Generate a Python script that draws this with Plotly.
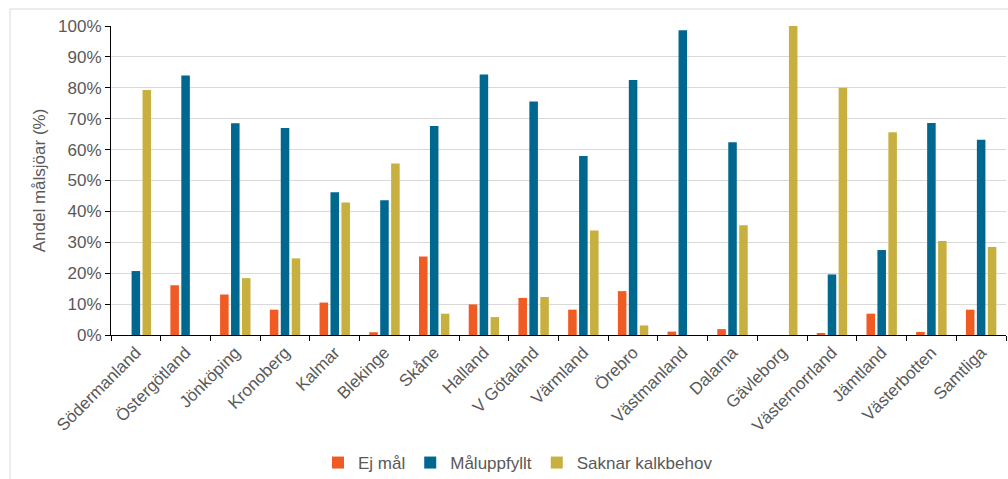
import plotly.graph_objects as go

# Län and the share of target lakes (%) in each status class
lan = ["Södermanland", "Östergötland", "Jönköping", "Kronoberg", "Kalmar",
       "Blekinge", "Skåne", "Halland", "V Götaland", "Värmland", "Örebro",
       "Västmanland", "Dalarna", "Gävleborg", "Västernorrland", "Jämtland",
       "Västerbotten", "Samtliga"]

ej_mal = [0, 16.1, 13.1, 8.2, 10.5, 0.9, 25.4, 9.9, 12.0, 8.2, 14.2,
          1.1, 1.9, 0, 0.4, 6.9, 1.0, 8.2]
maluppfyllt = [20.7, 84.0, 68.5, 67.0, 46.2, 43.6, 67.6, 84.3, 75.6, 57.9, 82.5,
               98.6, 62.4, 0, 19.6, 27.5, 68.6, 63.2]
saknar_kalkbehov = [79.3, 0, 18.4, 24.8, 42.9, 55.5, 6.9, 5.8, 12.3, 33.8, 3.1,
                    0, 35.5, 100.0, 80.0, 65.6, 30.4, 28.5]

series = [
    ("Ej mål", ej_mal, "#F05A23"),
    ("Måluppfyllt", maluppfyllt, "#00678F"),
    ("Saknar kalkbehov", saknar_kalkbehov, "#C8B040"),
]

text_col = "#595959"
font_family = "Liberation Sans, Arial, sans-serif"
fs = 17

fig = go.Figure()
for name, vals, col in series:
    fig.add_trace(go.Bar(
        name=name, x=lan, y=vals,
        marker=dict(color=col, line=dict(width=0)),
    ))

# plot-area geometry in pixels, used for the outer frame and legend
L, R, T, B = 111, 1006, 26, 335
W, H = R - L, B - T

def px_x(x):
    return (x - L) / W

def px_y(y):
    return (B - y) / H

fig.update_layout(
    width=1008, height=479,
    margin=dict(l=L, r=1008 - R, t=T, b=479 - B, autoexpand=False),
    paper_bgcolor="white", plot_bgcolor="white",
    barmode="group", bargap=0.34, bargroupgap=0.22,
    font=dict(family=font_family, size=fs, color=text_col),
    showlegend=True,
    legend=dict(orientation="h", x=px_x(518), xanchor="center",
                y=px_y(463), yanchor="middle",
                font=dict(size=fs, color=text_col),
                itemwidth=30, traceorder="normal"),
    shapes=[dict(type="rect", xref="paper", yref="paper",
                 x0=px_x(10), x1=px_x(1030), y0=px_y(490), y1=px_y(9),
                 line=dict(color="#D9D9D9", width=1), layer="below")],
)

fig.update_xaxes(
    type="category", tickangle=-45, tickson="boundaries",
    ticks="outside", ticklen=5, tickcolor="#000000",
    showline=True, linecolor="#000000", linewidth=1,
    tickfont=dict(size=fs, color=text_col), automargin=False,
)

fig.update_yaxes(
    range=[0, 100], dtick=10, ticksuffix="%",
    ticks="outside", ticklen=5, tickcolor="#000000",
    showline=True, linecolor="#000000", linewidth=1,
    showgrid=True, gridcolor="#D9D9D9", gridwidth=1,
    zeroline=False, automargin=False,
    tickfont=dict(size=fs, color=text_col),
    title=dict(text="Andel målsjöar (%)", font=dict(size=fs, color=text_col),
               standoff=8),
)

fig.write_html("out.html")
